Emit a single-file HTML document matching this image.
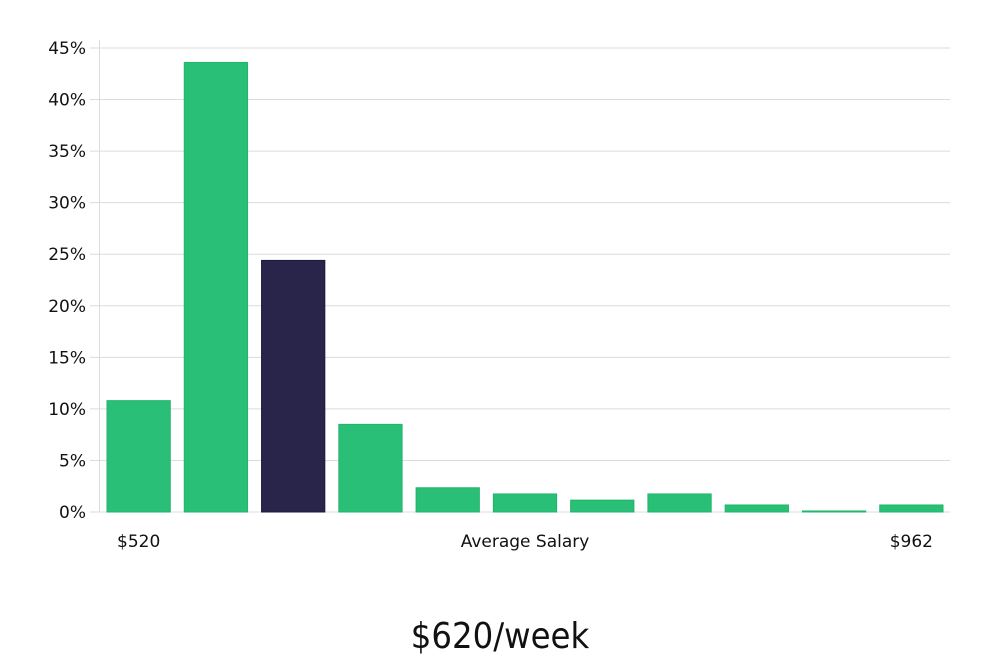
<!DOCTYPE html>
<html><head><meta charset="utf-8"><style>
body{margin:0;background:#fff;}
svg text{font-family:"DejaVu Sans","Liberation Sans",sans-serif;}
</style></head><body>
<svg width="1000" height="660" xmlns="http://www.w3.org/2000/svg" id="chart">
<text x="500" y="648" text-anchor="middle" font-size="36" fill="#111" style="font-family:'Liberation Sans Narrow','DejaVu Sans Condensed','Liberation Sans',sans-serif">$620/week</text>
</svg>
<script>
const categories=["b1","b2","b3","b4","b5","b6","b7","b8","b9","b10","b11"];
const values=[10.8,43.6,24.4,8.5,2.35,1.75,1.15,1.75,0.68,0.1,0.68];
const highlight=[false,false,true,false,false,false,false,false,false,false,false];
const yTicks=[0,5,10,15,20,25,30,35,40,45];
const xLabels=["$520","Average Salary","$962"];
const svg=document.getElementById('chart');
const NS='http://www.w3.org/2000/svg';
const x0=100,x1=950,yBase=512,yTop=48,yMax=45;
const y=v=>yBase-(v/yMax)*(yBase-yTop);
const slot=(x1-x0)/categories.length;
const xs=i=>x0+i*slot;
function mk(t,a){const e=document.createElementNS(NS,t);for(const k in a)e.setAttribute(k,a[k]);svg.appendChild(e);return e;}
yTicks.forEach(t=>{
 const g=mk('line',{x1:90,x2:x1,y1:y(t),y2:y(t),stroke:'#dcdcdc','stroke-width':1});
 
 
 const tx=mk('text',{x:86,y:y(t)+6,'text-anchor':'end','font-size':17,fill:'#111'});
 tx.textContent=t+'%';
 
 
});
const ax=mk('line',{x1:99.5,x2:99.5,y1:40,y2:yBase,stroke:'#dcdcdc','stroke-width':1});


values.forEach((v,i)=>{
 const r=mk('rect',{x:xs(i)+7,y:y(v),width:slot-14,height:yBase-y(v),fill:highlight[i]?'#29254a':'#2abf76',stroke:highlight[i]?'#1c1840':'#22b56c','stroke-width':1});
 
 
});
const lx=[xs(0)+slot/2,(x0+x1)/2,xs(categories.length-1)+slot/2];
xLabels.forEach((l,i)=>{
 const t=mk('text',{x:lx[i],y:547,'text-anchor':'middle','font-size':17,fill:'#111'});
 t.textContent=l;
 
 
});
</script>
</body></html>
